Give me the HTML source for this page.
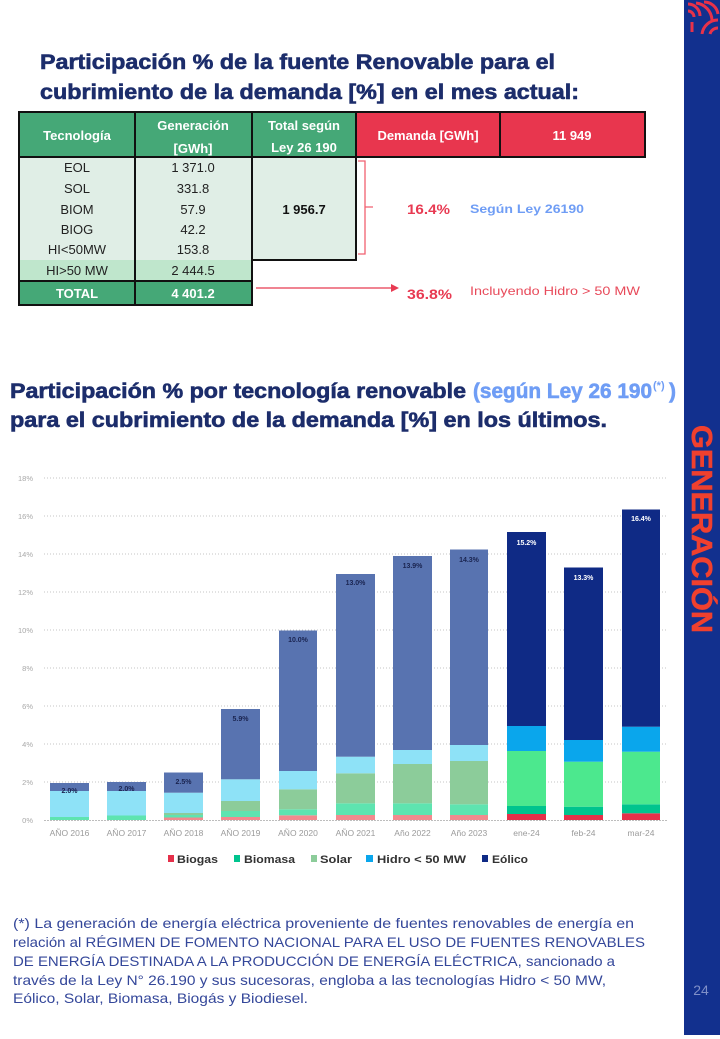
<!DOCTYPE html>
<html>
<head>
<meta charset="utf-8">
<style>
html,body{margin:0;padding:0;background:#fff;}
svg{display:block;font-family:"Liberation Sans",sans-serif;}
</style>
</head>
<body>
<svg width="720" height="1039" viewBox="0 0 720 1039" xmlns="http://www.w3.org/2000/svg">
<rect x="0" y="0" width="720" height="1039" fill="#ffffff"/>

<!-- Sidebar -->
<rect x="684" y="0" width="36" height="1035" fill="#12308e"/>
<g fill="none" stroke="#e8324a" stroke-width="3">
  <path d="M688 4 A12 12 0 0 1 700 16"/>
  <path d="M688 11 A6 6 0 0 1 694 17"/>
  <path d="M696 3 A18 18 0 0 1 712 20"/>
  <path d="M704 2 A14 14 0 0 1 718 14"/>
  <path d="M718 20 A16 16 0 0 0 702 34"/>
  <path d="M718 28 A8 8 0 0 0 710 34"/>
  <path d="M692 22 L692 32"/>
</g>
<text transform="translate(692,529) rotate(90)" x="0" y="0" text-anchor="middle" font-size="29" font-weight="bold" fill="#f0402e" stroke="#f0402e" stroke-width="0.6" textLength="208" lengthAdjust="spacingAndGlyphs">GENERACIÓN</text>
<text x="701" y="995" text-anchor="middle" font-size="14" fill="#8090c8">24</text>

<!-- Title 1 -->
<g font-size="21" font-weight="bold" fill="#1c2d6b" stroke="#1c2d6b" stroke-width="0.6">
<text x="40" y="69" textLength="515" lengthAdjust="spacingAndGlyphs">Participación % de la fuente Renovable para el</text>
<text x="40" y="99" textLength="539" lengthAdjust="spacingAndGlyphs">cubrimiento de la demanda [%] en el mes actual:</text>
</g>

<!-- Table -->
<rect x="19" y="112" width="337" height="45" fill="#45a877"/>
<rect x="356" y="112" width="289" height="45" fill="#e8364e"/>
<rect x="19" y="157" width="233" height="103" fill="#e0eee6"/>
<rect x="252" y="157" width="104" height="103" fill="#e0eee6"/>
<rect x="19" y="260" width="233" height="21" fill="#bfe6cc"/>
<rect x="19" y="281" width="233" height="24" fill="#45a877"/>
<g stroke="#111" stroke-width="2" fill="none">
  <line x1="18" y1="112" x2="646" y2="112"/>
  <line x1="18" y1="157" x2="646" y2="157"/>
  <line x1="19" y1="112" x2="19" y2="305"/>
  <line x1="135" y1="112" x2="135" y2="305"/>
  <line x1="252" y1="112" x2="252" y2="305"/>
  <line x1="356" y1="112" x2="356" y2="261"/>
  <line x1="500" y1="112" x2="500" y2="157"/>
  <line x1="645" y1="112" x2="645" y2="157"/>
  <line x1="252" y1="260" x2="357" y2="260"/>
  <line x1="18" y1="281" x2="253" y2="281"/>
  <line x1="18" y1="305" x2="253" y2="305"/>
</g>
<g font-size="13" font-weight="bold" fill="#ffffff" text-anchor="middle">
  <text x="77" y="140">Tecnología</text>
  <text x="193" y="130">Generación</text>
  <text x="193" y="153">[GWh]</text>
  <text x="304" y="130">Total según</text>
  <text x="304" y="152">Ley 26 190</text>
  <text x="428" y="140">Demanda [GWh]</text>
  <text x="572" y="140">11 949</text>
  <text x="77" y="298">TOTAL</text>
  <text x="193" y="298">4 401.2</text>
</g>
<g font-size="13" fill="#222" text-anchor="middle">
  <text x="77" y="172">EOL</text>
  <text x="77" y="193">SOL</text>
  <text x="77" y="214">BIOM</text>
  <text x="77" y="234">BIOG</text>
  <text x="77" y="254">HI&lt;50MW</text>
  <text x="77" y="275">HI&gt;50 MW</text>
  <text x="193" y="172">1 371.0</text>
  <text x="193" y="193">331.8</text>
  <text x="193" y="214">57.9</text>
  <text x="193" y="234">42.2</text>
  <text x="193" y="254">153.8</text>
  <text x="193" y="275">2 444.5</text>
  <text x="304" y="214" font-weight="bold" fill="#111">1 956.7</text>
</g>
<!-- brace -->
<path d="M358 161 L365 161 L365 254 L358 254 M365 207 L373 207" fill="none" stroke="#f06070" stroke-width="1.3"/>
<text x="407" y="214" font-size="14" font-weight="bold" fill="#e83a52" textLength="43" lengthAdjust="spacingAndGlyphs">16.4%</text>
<text x="470" y="213" font-size="12" font-weight="bold" fill="#6f9df5" textLength="114" lengthAdjust="spacingAndGlyphs">Según Ley 26190</text>
<!-- arrow -->
<line x1="256" y1="288" x2="394" y2="288" stroke="#e83a52" stroke-width="1.2"/>
<path d="M399 288 L391 284 L391 292 Z" fill="#e83a52"/>
<text x="407" y="299" font-size="14" font-weight="bold" fill="#e83a52" textLength="45" lengthAdjust="spacingAndGlyphs">36.8%</text>
<text x="470" y="295" font-size="12" fill="#e84a5a" textLength="170" lengthAdjust="spacingAndGlyphs">Incluyendo Hidro &gt; 50 MW</text>

<!-- Title 2 -->
<g font-size="21" font-weight="bold" stroke-width="0.6">
<text x="10" y="398" fill="#1c2d6b" stroke="#1c2d6b" textLength="456" lengthAdjust="spacingAndGlyphs">Participación % por tecnología renovable</text>
<text x="473" y="398" fill="#6f9df5" stroke="#6f9df5" textLength="179" lengthAdjust="spacingAndGlyphs">(según Ley 26 190</text>
<text x="653" y="389" font-size="11" fill="#6f9df5" stroke="none">(*)</text>
<text x="669" y="398" fill="#6f9df5" stroke="#6f9df5">)</text>
<text x="10" y="427" fill="#1c2d6b" stroke="#1c2d6b" textLength="597" lengthAdjust="spacingAndGlyphs">para el cubrimiento de la demanda [%] en los últimos.</text>
</g>

<!-- Chart gridlines -->
<g stroke="#c4c4c4" stroke-width="1" stroke-dasharray="1 2">
  <line x1="44" y1="478" x2="668" y2="478"/>
  <line x1="44" y1="516" x2="668" y2="516"/>
  <line x1="44" y1="554" x2="668" y2="554"/>
  <line x1="44" y1="592" x2="668" y2="592"/>
  <line x1="44" y1="630" x2="668" y2="630"/>
  <line x1="44" y1="668" x2="668" y2="668"/>
  <line x1="44" y1="706" x2="668" y2="706"/>
  <line x1="44" y1="744" x2="668" y2="744"/>
  <line x1="44" y1="782" x2="668" y2="782"/>
</g>
<g font-size="7.5" fill="#a8a8a8" text-anchor="end">
  <text x="33" y="481">18%</text>
  <text x="33" y="519">16%</text>
  <text x="33" y="557">14%</text>
  <text x="33" y="595">12%</text>
  <text x="33" y="633">10%</text>
  <text x="33" y="671">8%</text>
  <text x="33" y="709">6%</text>
  <text x="33" y="747">4%</text>
  <text x="33" y="785">2%</text>
  <text x="33" y="823">0%</text>
</g>

<!-- Bars: pastel years -->
<rect x="50" y="817" width="39" height="3" fill="#5ee4b0"/>
<rect x="50" y="791" width="39" height="26" fill="#8ee2f7"/>
<rect x="50" y="783" width="39" height="8" fill="#5873b0"/>
<rect x="107" y="815.5" width="39" height="4.5" fill="#5ee4b0"/>
<rect x="107" y="791" width="39" height="24.5" fill="#8ee2f7"/>
<rect x="107" y="782" width="39" height="9" fill="#5873b0"/>
<rect x="164" y="817.5" width="39" height="2.5" fill="#f28a8e"/>
<rect x="164" y="815" width="39" height="2.5" fill="#5ee4b0"/>
<rect x="164" y="813" width="39" height="2" fill="#8ccc9a"/>
<rect x="164" y="792.7" width="39" height="20.3" fill="#8ee2f7"/>
<rect x="164" y="772.5" width="39" height="20.2" fill="#5873b0"/>
<rect x="221" y="817" width="39" height="3" fill="#f28a8e"/>
<rect x="221" y="811" width="39" height="6" fill="#5ee4b0"/>
<rect x="221" y="801" width="39" height="10" fill="#8ccc9a"/>
<rect x="221" y="779.3" width="39" height="21.7" fill="#8ee2f7"/>
<rect x="221" y="709" width="39" height="70.3" fill="#5873b0"/>
<rect x="279" y="815.3" width="38" height="4.7" fill="#f28a8e"/>
<rect x="279" y="809.3" width="38" height="6" fill="#5ee4b0"/>
<rect x="279" y="789.3" width="38" height="20" fill="#8ccc9a"/>
<rect x="279" y="771" width="38" height="18.3" fill="#8ee2f7"/>
<rect x="279" y="630.5" width="38" height="140.5" fill="#5873b0"/>
<rect x="336" y="815" width="39" height="5" fill="#f28a8e"/>
<rect x="336" y="803.3" width="39" height="11.7" fill="#5ee4b0"/>
<rect x="336" y="773.3" width="39" height="30" fill="#8ccc9a"/>
<rect x="336" y="756.7" width="39" height="16.6" fill="#8ee2f7"/>
<rect x="336" y="574" width="39" height="182.7" fill="#5873b0"/>
<rect x="393" y="815" width="39" height="5" fill="#f28a8e"/>
<rect x="393" y="803.3" width="39" height="11.7" fill="#5ee4b0"/>
<rect x="393" y="764" width="39" height="39.3" fill="#8ccc9a"/>
<rect x="393" y="750" width="39" height="14" fill="#8ee2f7"/>
<rect x="393" y="556" width="39" height="194" fill="#5873b0"/>
<rect x="450" y="815" width="38" height="5" fill="#f28a8e"/>
<rect x="450" y="804.3" width="38" height="10.7" fill="#5ee4b0"/>
<rect x="450" y="761" width="38" height="43.3" fill="#8ccc9a"/>
<rect x="450" y="745" width="38" height="16" fill="#8ee2f7"/>
<rect x="450" y="549.5" width="38" height="195.5" fill="#5873b0"/>
<rect x="507" y="814" width="39" height="6" fill="#e5304a"/>
<rect x="507" y="806" width="39" height="8" fill="#00c48e"/>
<rect x="507" y="751" width="39" height="55" fill="#4ce88e"/>
<rect x="507" y="726" width="39" height="25" fill="#0aa6ec"/>
<rect x="507" y="532" width="39" height="194" fill="#0f2a85"/>
<rect x="564" y="815" width="39" height="5" fill="#e5304a"/>
<rect x="564" y="806.7" width="39" height="8.3" fill="#00c48e"/>
<rect x="564" y="761.7" width="39" height="45" fill="#4ce88e"/>
<rect x="564" y="740" width="39" height="21.7" fill="#0aa6ec"/>
<rect x="564" y="567.5" width="39" height="172.5" fill="#0f2a85"/>
<rect x="622" y="813.3" width="38" height="6.7" fill="#e5304a"/>
<rect x="622" y="804.3" width="38" height="9" fill="#00c48e"/>
<rect x="622" y="751.7" width="38" height="52.6" fill="#4ce88e"/>
<rect x="622" y="726.7" width="38" height="25" fill="#0aa6ec"/>
<rect x="622" y="509.5" width="38" height="217.2" fill="#0f2a85"/>

<line x1="44" y1="820.5" x2="668" y2="820.5" stroke="#bdbdbd" stroke-width="1" stroke-dasharray="2 1"/>

<!-- Bar labels -->
<g font-size="7" font-weight="bold" text-anchor="middle" fill="#1a2450">
  <text x="69.5" y="793">2.0%</text>
  <text x="126.5" y="791">2.0%</text>
  <text x="183.5" y="784">2.5%</text>
  <text x="240.5" y="721">5.9%</text>
  <text x="298" y="642">10.0%</text>
  <text x="355.5" y="585">13.0%</text>
  <text x="412.5" y="568">13.9%</text>
  <text x="469" y="562">14.3%</text>
</g>
<g font-size="7" font-weight="bold" text-anchor="middle" fill="#ffffff">
  <text x="526.5" y="545">15.2%</text>
  <text x="583.5" y="580">13.3%</text>
  <text x="641" y="521">16.4%</text>
</g>

<!-- X labels -->
<g font-size="8.5" fill="#9a9a9a" text-anchor="middle">
  <text x="69.5" y="836">AÑO 2016</text>
  <text x="126.5" y="836">AÑO 2017</text>
  <text x="183.5" y="836">AÑO 2018</text>
  <text x="240.5" y="836">AÑO 2019</text>
  <text x="298" y="836">AÑO 2020</text>
  <text x="355.5" y="836">AÑO 2021</text>
  <text x="412.5" y="836">Año 2022</text>
  <text x="469" y="836">Año 2023</text>
  <text x="526.5" y="836">ene-24</text>
  <text x="583.5" y="836">feb-24</text>
  <text x="641" y="836">mar-24</text>
</g>

<!-- Legend -->
<rect x="168" y="855" width="6" height="7" fill="#e5304a"/>
<text x="177" y="863" font-size="11" font-weight="bold" fill="#333" textLength="41" lengthAdjust="spacingAndGlyphs">Biogas</text>
<rect x="234" y="855" width="6" height="7" fill="#00c48e"/>
<text x="244" y="863" font-size="11" font-weight="bold" fill="#333" textLength="51" lengthAdjust="spacingAndGlyphs">Biomasa</text>
<rect x="311" y="855" width="6" height="7" fill="#8ccc9a"/>
<text x="320" y="863" font-size="11" font-weight="bold" fill="#333" textLength="32" lengthAdjust="spacingAndGlyphs">Solar</text>
<rect x="366" y="855" width="7" height="7" fill="#0aa6ec"/>
<text x="377" y="863" font-size="11" font-weight="bold" fill="#333" textLength="89" lengthAdjust="spacingAndGlyphs">Hidro &lt; 50 MW</text>
<rect x="482" y="855" width="6" height="7" fill="#0f2a85"/>
<text x="492" y="863" font-size="11" font-weight="bold" fill="#333" textLength="36" lengthAdjust="spacingAndGlyphs">Eólico</text>

<!-- Footnote -->
<g font-size="14" fill="#34479a">
  <text x="13" y="928" textLength="621" lengthAdjust="spacingAndGlyphs">(*) La generación de energía eléctrica proveniente de fuentes renovables de energía en</text>
  <text x="13" y="947" textLength="632" lengthAdjust="spacingAndGlyphs">relación al RÉGIMEN DE FOMENTO NACIONAL PARA EL USO DE FUENTES RENOVABLES</text>
  <text x="13" y="966" textLength="602" lengthAdjust="spacingAndGlyphs">DE ENERGÍA DESTINADA A LA PRODUCCIÓN DE ENERGÍA ELÉCTRICA, sancionado a</text>
  <text x="13" y="985" textLength="593" lengthAdjust="spacingAndGlyphs">través de la Ley N° 26.190 y sus sucesoras, engloba a las tecnologías Hidro &lt; 50 MW,</text>
  <text x="13" y="1003" textLength="295" lengthAdjust="spacingAndGlyphs">Eólico, Solar, Biomasa, Biogás y Biodiesel.</text>
</g>
</svg>
</body>
</html>
